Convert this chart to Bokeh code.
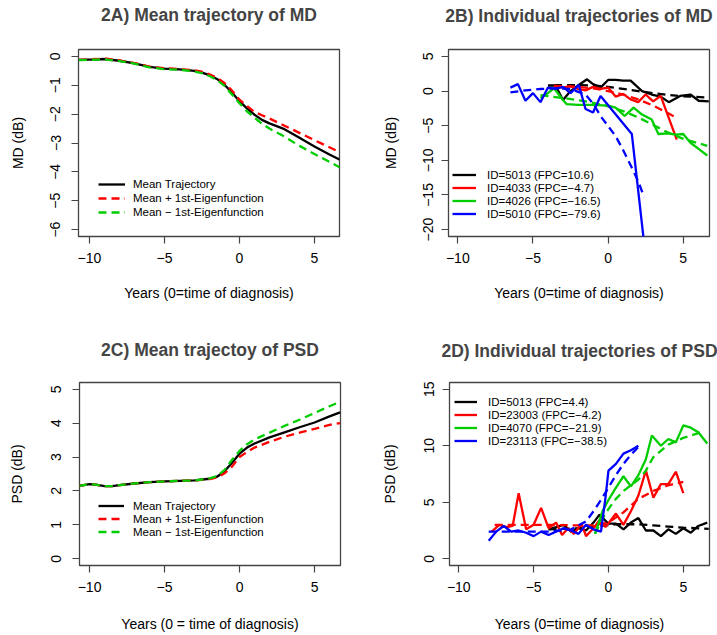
from bokeh.plotting import figure
from bokeh.models import Range1d, FixedTicker, Legend, LegendItem
from bokeh.layouts import column, row
from bokeh.embed import file_html
from bokeh.resources import INLINE

FONT = "Liberation Sans"
BLACK, RED, GREEN, BLUE = "#000000", "#FF0000", "#00CD00", "#0000FF"
FRAME = "#444444"

# ---------------- Panel 2A: mean trajectory of MD ----------------
a_mean_x = [-10.7, -9.5, -9, -8, -7, -6, -5, -4, -3, -2.5, -2, -1.5, -1, -0.5, 0, 0.5, 1, 1.5, 2, 3, 4, 5, 6, 6.7]
a_mean_y = [-0.12, -0.10, -0.09, -0.15, -0.24, -0.36, -0.42, -0.45, -0.50, -0.56, -0.65, -0.78, -0.98, -1.25,
            -1.55, -1.80, -2.02, -2.20, -2.32, -2.52, -2.82, -3.12, -3.40, -3.58]
a_plus_x = [-10.7, -9.5, -9, -8, -7, -6, -5, -4, -3, -2.5, -2, -1.5, -1, -0.5, 0, 0.5, 1, 1.5, 2, 3, 4, 5, 6, 6.7]
a_plus_y = [-0.12, -0.09, -0.07, -0.14, -0.23, -0.35, -0.41, -0.44, -0.48, -0.53, -0.62, -0.74, -0.92, -1.18,
            -1.50, -1.72, -1.92, -2.04, -2.15, -2.40, -2.65, -2.90, -3.15, -3.32]
a_minus_x = [-10.7, -9.5, -9, -8, -7, -6, -5, -4, -3, -2.5, -2, -1.5, -1, -0.5, 0, 0.5, 1, 1.5, 2, 3, 4, 5, 6, 6.7]
a_minus_y = [-0.13, -0.11, -0.10, -0.16, -0.25, -0.38, -0.44, -0.46, -0.52, -0.58, -0.68, -0.82, -1.02, -1.32,
             -1.62, -1.90, -2.12, -2.33, -2.50, -2.78, -3.10, -3.38, -3.65, -3.85]

# ---------------- Panel 2B: individual trajectories of MD ----------------
b_black_x = [-4.0, -3.5, -3.0, -2.5, -2.0, -1.4, -1.0, -0.5, 0.0, 0.5, 1.0, 1.5, 2.26, 2.9, 3.5, 4.04, 4.8, 5.48, 6.03, 6.7]
b_black_y = [0.8, 0.8, -1.3, 0.0, 0.8, 1.7, 1.0, 0.5, 1.6, 1.6, 1.5, 1.5, 0.0, -0.5, -0.8, -1.6, -0.7, -0.5, -1.4, -1.5]
b_black_fit_x = [-3.6, -2, -1, 0, 1, 2, 3, 4, 5, 6.7]
b_black_fit_y = [0.85, 0.85, 0.8, 0.6, 0.3, 0.0, -0.3, -0.55, -0.75, -0.95]
b_red_x = [-3.6, -3.0, -2.5, -2.0, -1.5, -1.0, -0.5, 0.0, 0.5, 1.0, 1.5, 2.0, 2.5, 3.0, 3.5, 4.57]
b_red_y = [0.8, 0.5, 0.7, 0.3, 0.1, 0.6, 0.3, 0.5, -0.8, -0.4, -1.2, -1.6, -0.5, -1.5, -0.7, -7.0]
b_red_fit_x = [-3.6, -2, -1, 0, 1, 2, 3, 4, 4.6]
b_red_fit_y = [0.75, 0.6, 0.4, 0.0, -0.5, -1.2, -2.1, -3.2, -3.9]
b_green_x = [-4.5, -4.0, -3.6, -3.0, -2.75, -2.0, -1.0, 0.0, 0.5, 1.1, 1.7, 2.2, 2.9, 3.35, 4.0, 4.5, 5.0, 5.5, 6.0, 6.6]
b_green_y = [-1.0, -0.3, 0.4, -1.3, -1.9, -2.0, -2.0, -2.1, -2.4, -3.6, -2.4, -3.3, -4.1, -6.2, -6.1, -6.3, -6.2, -7.5, -8.3, -9.3]
b_green_fit_x = [-4.5, -3, -2, -1, 0, 1, 2, 3, 4, 5, 6.6]
b_green_fit_y = [-0.6, -1.0, -1.3, -1.7, -2.2, -2.9, -3.8, -4.9, -6.0, -6.9, -7.9]
b_blue_x = [-6.5, -6.0, -5.5, -5.0, -4.5, -4.0, -3.5, -3.0, -2.5, -1.95, -1.5, -1.0, -0.5, 1.58, 2.4]
b_blue_y = [0.5, 1.0, -1.4, -0.3, -1.6, 0.5, 0.3, 0.6, -0.3, 0.9, -2.6, -3.1, -0.7, -6.2, -22.0]
b_blue_fit_x = [-6.5, -5.5, -4.5, -3.5, -2.5, -1.5, -1.0, -0.4, 0.5, 1.0, 1.5, 2.0, 2.4]
b_blue_fit_y = [-0.2, 0.1, 0.3, 0.4, 0.3, -0.5, -1.8, -3.9, -6.5, -8.5, -10.7, -13.0, -15.3]

# ---------------- Panel 2C: mean trajectory of PSD ----------------
c_mean_x = [-10.7, -10, -9.5, -9, -8.5, -8, -7, -6, -5, -4, -3, -2, -1.5, -1, -0.5, 0, 0.5, 1, 2, 3, 4, 5, 6, 6.7]
c_mean_y = [2.15, 2.20, 2.18, 2.14, 2.14, 2.17, 2.22, 2.26, 2.28, 2.30, 2.31, 2.36, 2.42, 2.58, 2.83, 3.10,
            3.28, 3.40, 3.58, 3.73, 3.88, 4.02, 4.20, 4.32]
c_plus_x = [-10.7, -10, -9.5, -9, -8.5, -8, -7, -6, -5, -4, -3, -2, -1.5, -1, -0.5, 0, 0.5, 1, 2, 3, 4, 5, 6, 6.7]
c_plus_y = [2.15, 2.20, 2.18, 2.14, 2.14, 2.17, 2.22, 2.26, 2.28, 2.30, 2.31, 2.35, 2.40, 2.52, 2.72, 3.00,
            3.15, 3.28, 3.45, 3.60, 3.72, 3.83, 3.95, 4.00]
c_minus_x = [-10.7, -10, -9.5, -9, -8.5, -8, -7, -6, -5, -4, -3, -2, -1.5, -1, -0.5, 0, 0.5, 1, 2, 3, 4, 5, 6, 6.7]
c_minus_y = [2.15, 2.20, 2.18, 2.14, 2.14, 2.17, 2.22, 2.26, 2.28, 2.30, 2.31, 2.37, 2.44, 2.62, 2.92, 3.18,
             3.38, 3.52, 3.72, 3.92, 4.10, 4.30, 4.50, 4.63]

# ---------------- Panel 2D: individual trajectories of PSD ----------------
d_black_x = [-4.0, -3.5, -3.0, -2.5, -2.0, -1.5, -1.0, -0.6, 0.0, 0.5, 1.0, 1.5, 2.0, 2.5, 3.0, 3.5, 4.0, 4.5, 5.0, 5.5, 6.0, 6.6]
d_black_y = [2.6, 2.8, 3.0, 2.4, 2.7, 2.5, 3.2, 3.9, 3.1, 3.1, 2.6, 3.2, 3.6, 2.5, 2.5, 2.0, 2.6, 2.2, 2.7, 2.3, 2.9, 3.2]
d_black_fit_x = [-4, -2, -0.5, 0.5, 2, 3, 4, 5, 6.7]
d_black_fit_y = [2.6, 2.7, 2.9, 3.05, 3.05, 2.95, 2.85, 2.75, 2.65]
d_red_x = [-7.8, -7.3, -6.8, -6.4, -6.0, -5.5, -5.0, -4.5, -4.0, -3.5, -3.1, -2.7, -2.3, -1.8, -1.5, -1.0, -0.6,
           -0.2, 0.5, 1.0, 1.5, 2.0, 2.5, 3.0, 3.5, 4.0, 4.5, 5.0]
d_red_y = [2.4, 3.0, 2.8, 2.9, 5.8, 2.6, 3.0, 4.5, 2.7, 3.2, 2.1, 2.7, 2.2, 3.1, 2.0, 2.7, 3.4, 2.8, 4.0, 3.0,
           4.2, 5.6, 7.8, 5.4, 6.6, 6.6, 7.7, 5.8]
d_red_fit_x = [-7.6, -6, -4, -2, -1, 0, 1, 2, 3, 4, 5]
d_red_fit_y = [3.0, 3.0, 3.0, 2.95, 2.95, 3.2, 4.1, 5.3, 6.0, 6.5, 6.8]
d_green_x = [-0.9, -0.4, 0.0, 0.5, 1.0, 1.5, 2.0, 2.5, 2.9, 3.5, 4.0, 4.5, 5.0, 5.5, 6.0, 6.6]
d_green_y = [2.2, 4.2, 5.2, 6.3, 7.3, 6.4, 7.4, 8.8, 10.9, 10.0, 10.6, 10.3, 11.8, 11.6, 11.2, 10.2]
d_green_fit_x = [-0.9, -0.5, 0, 0.5, 1, 1.5, 2, 2.5, 3, 4, 5, 6.2]
d_green_fit_y = [2.2, 3.3, 4.4, 5.3, 6.0, 6.5, 7.0, 7.8, 9.0, 10.1, 10.7, 11.2]
d_blue_x = [-8.0, -7.5, -7.0, -6.5, -6.0, -5.5, -5.0, -4.5, -4.0, -3.5, -3.0, -2.5, -2.0, -1.5, -1.0, -0.5, -0.2,
            0.0, 0.5, 1.0, 1.5, 2.0]
d_blue_y = [1.6, 2.4, 2.9, 2.4, 2.5, 2.3, 2.0, 2.4, 2.1, 2.4, 2.7, 2.5, 2.2, 3.0, 2.6, 2.4, 5.4, 7.8, 8.4, 9.3, 9.6, 10.0]
d_blue_fit_x = [-8, -6, -4, -2.5, -1.5, -1.0, -0.5, 0, 0.5, 1, 1.5, 2]
d_blue_fit_y = [2.4, 2.4, 2.4, 2.6, 3.3, 4.2, 5.2, 6.3, 7.4, 8.4, 9.2, 9.9]

# ---------------- texts ----------------
titles = ["2A) Mean trajectory of MD", "2B) Individual trajectories of MD",
          "2C) Mean trajectoy of PSD", "2D) Individual trajectories of PSD"]
xlabels = ["Years (0=time of diagnosis)", "Years (0=time of diagnosis)",
           "Years (0 = time of diagnosis)", "Years (0=time of diagnosis)"]
ylabels = ["MD (dB)", "MD (dB)", "PSD (dB)", "PSD (dB)"]
mean_labels = ["Mean Trajectory", "Mean + 1st-Eigenfunction", "Mean \u2212 1st-Eigenfunction"]
b_labels = ["ID=5013 (FPC=10.6)", "ID=4033 (FPC=\u22124.7)", "ID=4026 (FPC=\u221216.5)", "ID=5010 (FPC=\u221279.6)"]
d_labels = ["ID=5013 (FPC=4.4)", "ID=23003 (FPC=\u22124.2)", "ID=4070 (FPC=\u221221.9)", "ID=23113 (FPC=\u221238.5)"]

x_ticks = [-10, -5, 0, 5]
a_yticks = [-6, -5, -4, -3, -2, -1, 0]
b_yticks = [-20, -15, -10, -5, 0, 5]
c_yticks = [0, 1, 2, 3, 4, 5]
d_yticks = [0, 5, 10, 15]

LW = 2.3
DASH = "8 5"


def make_fig(title, xr, yr, width, height, mbl, mbr, mbt, mbb, yticks, xlabel, ylabel,
             ytick_stand, ylab_stand, xlab_stand, title_lh):
    p = figure(width=width, height=height, x_range=Range1d(*xr), y_range=Range1d(*yr),
               output_backend="svg", toolbar_location=None, tools="",
               min_border_left=mbl, min_border_right=mbr, min_border_top=mbt, min_border_bottom=mbb)
    # a blank second line lifts the title to the reference's distance above the box
    p.title.text = title + "\n "
    p.title.text_line_height = title_lh
    p.title.standoff = 2
    p.title.text_font = FONT
    p.title.text_font_size = "17.5px"
    p.title.text_font_style = "bold"
    p.title.align = "center"
    p.grid.visible = False
    p.outline_line_color = FRAME
    p.outline_line_width = 1.3
    p.background_fill_color = "white"
    p.border_fill_color = "white"
    for ax in (p.xaxis[0], p.yaxis[0]):
        ax.axis_line_color = None
        ax.major_tick_line_color = FRAME
        ax.major_tick_line_width = 1.2
        ax.major_tick_out = 7
        ax.major_tick_in = 0
        ax.minor_tick_line_color = None
        ax.major_label_text_font = FONT
        ax.major_label_text_font_size = "14px"
        ax.major_label_text_color = "black"
        ax.axis_label_text_font = FONT
        ax.axis_label_text_font_size = "14px"
        ax.axis_label_text_font_style = "normal"
        ax.axis_label_text_color = "black"
    p.xaxis.ticker = FixedTicker(ticks=x_ticks)
    p.yaxis.ticker = FixedTicker(ticks=yticks)
    p.xaxis.axis_label = xlabel
    p.yaxis.axis_label = ylabel
    p.xaxis.major_label_standoff = 9
    p.xaxis.axis_label_standoff = xlab_stand
    p.yaxis.major_label_orientation = "vertical"
    p.yaxis.major_label_standoff = ytick_stand
    p.yaxis.axis_label_standoff = ylab_stand
    return p


def add_legend(p, items, loc, glyph_w, standoff, row_h):
    leg = Legend(items=items, location=loc, orientation="vertical",
                 border_line_color=None, background_fill_alpha=0,
                 glyph_width=glyph_w, glyph_height=row_h, label_height=row_h,
                 label_standoff=standoff, spacing=0, padding=0, margin=0,
                 label_text_font=FONT, label_text_font_size="11.5px", label_text_color="black")
    p.add_layout(leg)


# Row 1: height 318, frames at y 49..236 ; Row 2: height 316, frames at y 382..570
pA = make_fig(titles[0], (-10.73, 6.67), (-6.24, 0.24), 378, 318, 78, 39, 49, 82, a_yticks,
              xlabels[0], ylabels[0], 11, 22, 19, 1.18)
rA0 = pA.line(a_mean_x, a_mean_y, line_color=BLACK, line_width=LW)
rA1 = pA.line(a_plus_x, a_plus_y, line_color=RED, line_width=LW, line_dash=DASH)
rA2 = pA.line(a_minus_x, a_minus_y, line_color=GREEN, line_width=LW, line_dash=DASH)
add_legend(pA, [LegendItem(label=mean_labels[0], renderers=[rA0]),
                LegendItem(label=mean_labels[1], renderers=[rA1]),
                LegendItem(label=mean_labels[2], renderers=[rA2])], (20, 17), 27, 8, 14)

pB = make_fig(titles[1], (-10.62, 6.75), (-21, 6), 339, 318, 70, 8, 49, 82, b_yticks,
              xlabels[1], ylabels[1], 8, 22, 19, 1.12)
b_series = [(b_black_x, b_black_y, b_black_fit_x, b_black_fit_y, BLACK),
            (b_red_x, b_red_y, b_red_fit_x, b_red_fit_y, RED),
            (b_green_x, b_green_y, b_green_fit_x, b_green_fit_y, GREEN),
            (b_blue_x, b_blue_y, b_blue_fit_x, b_blue_fit_y, BLUE)]
b_items = []
for (sx, sy, fx, fy, col), lab in zip(b_series, b_labels):
    r = pB.line(sx, sy, line_color=col, line_width=LW)
    pB.line(fx, fy, line_color=col, line_width=LW, line_dash=DASH)
    b_items.append(LegendItem(label=lab, renderers=[r]))
add_legend(pB, b_items, (4, 16), 24, 11, 13)

pC = make_fig(titles[2], (-10.67, 6.73), (-0.2, 5.2), 378, 316, 79, 38, 64, 64, c_yticks,
              xlabels[2], ylabels[2], 11, 24, 21, 1.1)
rC0 = pC.line(c_mean_x, c_mean_y, line_color=BLACK, line_width=LW)
rC1 = pC.line(c_plus_x, c_plus_y, line_color=RED, line_width=LW, line_dash=DASH)
rC2 = pC.line(c_minus_x, c_minus_y, line_color=GREEN, line_width=LW, line_dash=DASH)
add_legend(pC, [LegendItem(label=mean_labels[0], renderers=[rC0]),
                LegendItem(label=mean_labels[1], renderers=[rC1]),
                LegendItem(label=mean_labels[2], renderers=[rC2])], (19, 27), 26, 9, 13)

pD = make_fig(titles[3], (-10.62, 6.75), (-0.6, 15.6), 339, 316, 70, 8, 64, 64, d_yticks,
              xlabels[3], ylabels[3], 8, 24, 21, 1.04)
d_series = [(d_black_x, d_black_y, d_black_fit_x, d_black_fit_y, BLACK),
            (d_red_x, d_red_y, d_red_fit_x, d_red_fit_y, RED),
            (d_green_x, d_green_y, d_green_fit_x, d_green_fit_y, GREEN),
            (d_blue_x, d_blue_y, d_blue_fit_x, d_blue_fit_y, BLUE)]
d_items = []
for (sx, sy, fx, fy, col), lab in zip(d_series, d_labels):
    r = pD.line(sx, sy, line_color=col, line_width=LW)
    pD.line(fx, fy, line_color=col, line_width=LW, line_dash=DASH)
    d_items.append(LegendItem(label=lab, renderers=[r]))
add_legend(pD, d_items, (5, 118), 23, 11, 13)

layout = column(row(pA, pB), row(pC, pD))
open("out.html", "w").write(file_html(layout, INLINE))
